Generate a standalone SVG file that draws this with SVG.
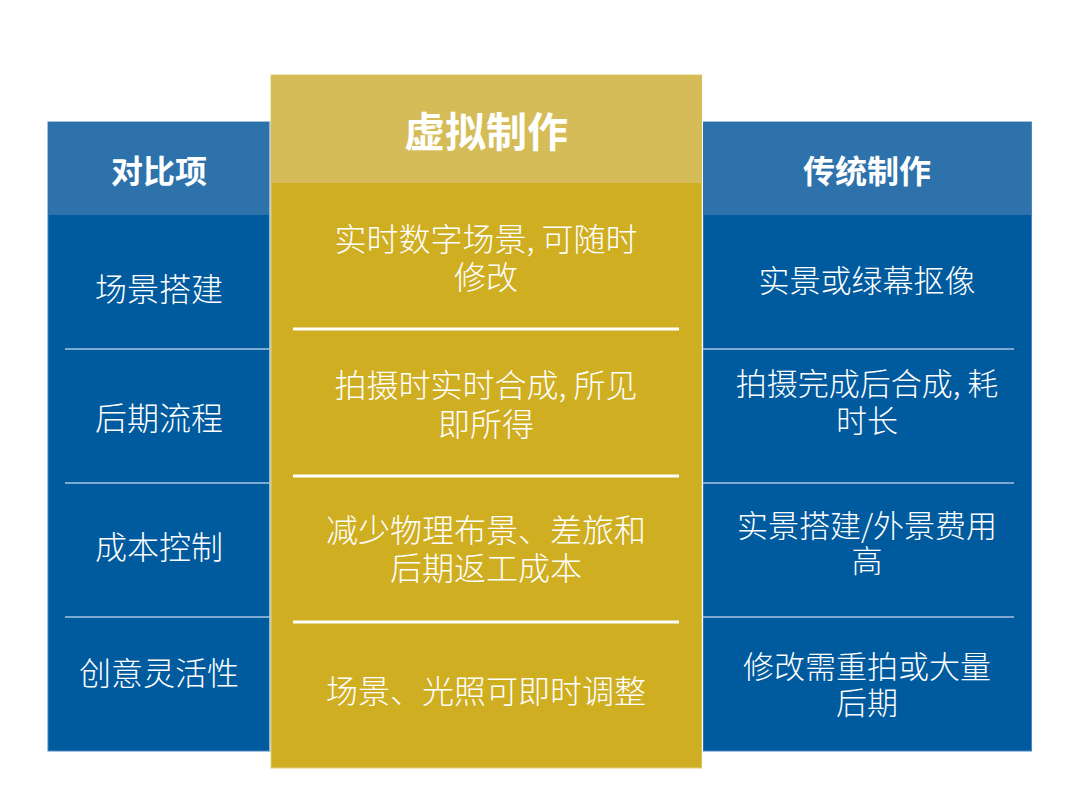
<svg xmlns="http://www.w3.org/2000/svg" width="1080" height="809" viewBox="0 0 1080 809">
<style>
.hd{font-family:"Noto Sans CJK SC","Noto Sans",sans-serif;font-weight:700;fill:#ffffff;text-anchor:middle;dominant-baseline:central}
.tx{font-family:"Noto Sans CJK SC","Noto Sans",sans-serif;font-weight:300;fill:#ffffff;text-anchor:middle;dominant-baseline:central}
.bdiv{stroke:#a9c5e2;stroke-width:1.5}
.gdiv{stroke:#ffffff;stroke-width:3}
</style>
<rect x="0" y="0" width="1080" height="809" fill="#ffffff"/>
<g id="col-left">
  <rect x="48" y="122" width="222" height="629" fill="#005a9e" stroke="#4a86c0" stroke-width="1"/>
  <rect x="48.5" y="122.5" width="221" height="92.5" fill="#2e72ab"/>
  <line x1="270" y1="122" x2="270" y2="751" stroke="#b8d0e8" stroke-width="1.5"/>
  <text class="hd" x="159" y="169" font-size="32">对比项</text>
  <line class="bdiv" x1="65" y1="349" x2="270" y2="349"/>
  <line class="bdiv" x1="65" y1="483" x2="270" y2="483"/>
  <line class="bdiv" x1="65" y1="617" x2="270" y2="617"/>
  <text class="tx" x="159" y="287" font-size="32">场景搭建</text>
  <text class="tx" x="159" y="416" font-size="32">后期流程</text>
  <text class="tx" x="159" y="545" font-size="32">成本控制</text>
  <text class="tx" x="159" y="671" font-size="32">创意灵活性</text>
</g>
<g id="col-virtual">
  <rect x="271" y="75" width="431" height="693" fill="#cfae22" stroke="#e2cf80" stroke-width="1"/>
  <rect x="271.5" y="75.5" width="430" height="107.5" fill="#d6bc58"/>
  <text class="hd" x="486" y="129" font-size="41">虚拟制作</text>
  <line class="gdiv" x1="293" y1="329" x2="679" y2="329"/>
  <line class="gdiv" x1="293" y1="476" x2="679" y2="476"/>
  <line class="gdiv" x1="293" y1="622" x2="679" y2="622"/>
  <text class="tx" x="486" y="237" font-size="32">实时数字场景, 可随时</text>
  <text class="tx" x="486" y="275" font-size="32">修改</text>
  <text class="tx" x="486" y="383" font-size="32">拍摄时实时合成, 所见</text>
  <text class="tx" x="486" y="422" font-size="32">即所得</text>
  <text class="tx" x="486" y="528" font-size="32">减少物理布景、差旅和</text>
  <text class="tx" x="486" y="566" font-size="32">后期返工成本</text>
  <text class="tx" x="486" y="689" font-size="32">场景、光照可即时调整</text>
</g>
<g id="col-traditional">
  <rect x="703" y="122" width="328.5" height="629" fill="#005a9e" stroke="#4a86c0" stroke-width="1"/>
  <rect x="703.5" y="122.5" width="327.5" height="92.5" fill="#2e72ab"/>
  <line x1="702.5" y1="75" x2="702.5" y2="768" stroke="#ffffff" stroke-width="1"/>
  <text class="hd" x="867" y="169" font-size="32">传统制作</text>
  <line class="bdiv" x1="703" y1="349" x2="1014" y2="349"/>
  <line class="bdiv" x1="703" y1="483" x2="1014" y2="483"/>
  <line class="bdiv" x1="703" y1="617" x2="1014" y2="617"/>
  <text class="tx" x="867" y="278" font-size="31">实景或绿幕抠像</text>
  <text class="tx" x="867" y="381" font-size="31">拍摄完成后合成, 耗</text>
  <text class="tx" x="867" y="418" font-size="31">时长</text>
  <text class="tx" x="867" y="523" font-size="31">实景搭建/外景费用</text>
  <text class="tx" x="867" y="558" font-size="31">高</text>
  <text class="tx" x="867" y="664" font-size="31">修改需重拍或大量</text>
  <text class="tx" x="867" y="700" font-size="31">后期</text>
</g>
</svg>
